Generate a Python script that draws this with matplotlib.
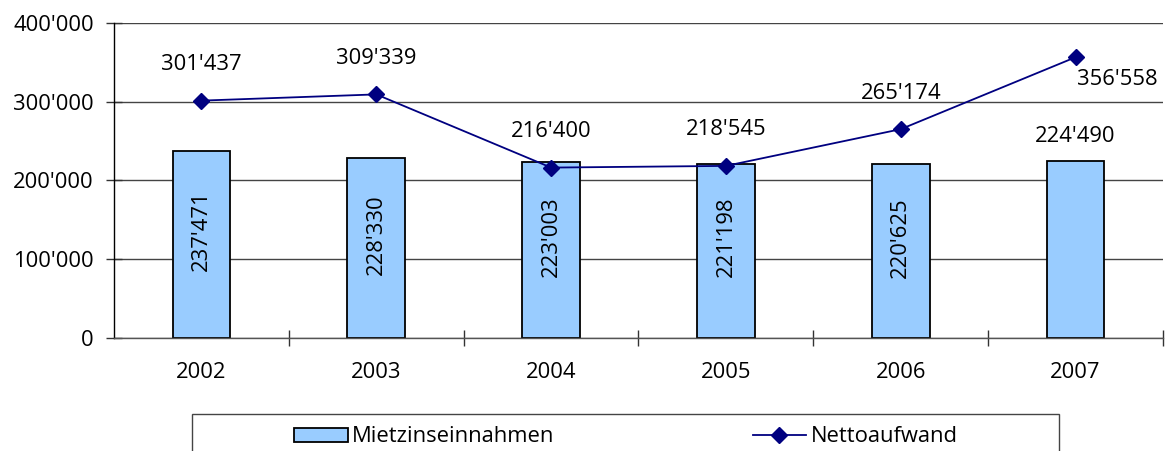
import matplotlib
matplotlib.use("Agg")
import matplotlib.pyplot as plt
from matplotlib.patches import Rectangle
from matplotlib.ticker import FuncFormatter

years = ["2002", "2003", "2004", "2005", "2006", "2007"]
mietzins = [237471, 228330, 223003, 221198, 220625, 224490]
netto = [301437, 309339, 216400, 218545, 265174, 356558]
yticks = [0, 100000, 200000, 300000, 400000]

plt.rcParams['font.family'] = ['Open Sans', 'DejaVu Sans']
FS = 15.8
W, H = 1168, 451
fig = plt.figure(figsize=(W / 100, H / 100), dpi=100)
ax = fig.add_axes([114 / W, (H - 338) / H, (1163 - 114) / W, (338 - 23) / H])

def fmt(v):
    return f"{int(v):,}".replace(",", "'")

x = list(range(len(years)))
bars = ax.bar(x, mietzins, width=0.33, color="#99CCFF", edgecolor="black",
              linewidth=1.3, zorder=2, label="Mietzinseinnahmen")
line, = ax.plot(x, netto, color="#000080", marker="D", markersize=8,
                linewidth=1.3, zorder=3, label="Nettoaufwand")

ax.set_xlim(-0.5, 5.5)
ax.set_ylim(0, 400000)
ax.set_yticks(yticks)
ax.yaxis.set_major_formatter(FuncFormatter(lambda v, p: fmt(v)))
ax.set_xticks(x)
ax.set_xticklabels(years)
ax.set_xticks([i + 0.5 for i in range(len(years))], minor=True)
ax.tick_params(axis="x", which="major", length=0, pad=17, labelsize=FS)
ax.tick_params(axis="x", which="minor", direction="inout", length=11, width=1, color="#333333")
ax.tick_params(axis="y", direction="inout", length=11, width=1, pad=9, labelsize=FS, color="#333333")

for s in ["top", "right"]:
    ax.spines[s].set_visible(False)
ax.spines["left"].set_color("black")
ax.spines["bottom"].set_color("#555555")
ax.spines["left"].set_linewidth(1)
ax.spines["bottom"].set_linewidth(1)
ax.grid(axis="y", color="#444444", linewidth=1, zorder=0)
ax.set_axisbelow(True)

# bar labels
for i, v in enumerate(mietzins):
    if i < len(years) - 1:
        ax.annotate(fmt(v), (i, v / 2), xytext=(0, 10), textcoords="offset points",
                    rotation=90, ha="center", va="center", fontsize=FS, zorder=4)
    else:
        ax.annotate(fmt(v), (i, v), xytext=(0, 18), textcoords="offset points",
                    ha="center", va="center", fontsize=FS, zorder=4)

# line labels
for i, v in enumerate(netto):
    if i < len(years) - 1:
        ax.annotate(fmt(v), (i, v), xytext=(0, 26), textcoords="offset points",
                    ha="center", va="center", fontsize=FS, zorder=4)
    else:
        ax.annotate(fmt(v), (i, v), xytext=(1, -16), textcoords="offset points",
                    ha="left", va="center", fontsize=FS, zorder=4)

# legend frame
fig.patches.append(Rectangle((192 / W, -0.1), (1059 - 192) / W, 0.1 + (H - 414) / H,
                             transform=fig.transFigure, facecolor="white",
                             edgecolor="#444444", linewidth=1, clip_on=False))
ly = (H - 437) / H
fig.legend(handles=[bars], loc="center left", bbox_to_anchor=(294 / W, ly),
           frameon=False, fontsize=FS, borderpad=0, borderaxespad=0,
           handlelength=2.45, handleheight=0.6, handletextpad=0.2)
fig.legend(handles=[line], loc="center left", bbox_to_anchor=(753 / W, ly),
           frameon=False, fontsize=FS, borderpad=0, borderaxespad=0,
           handlelength=2.4, handletextpad=0.25, numpoints=1)

fig.savefig("out.png", dpi=100)
